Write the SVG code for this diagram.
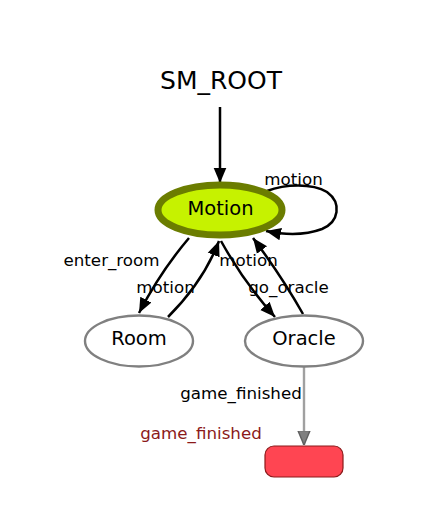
<svg xmlns="http://www.w3.org/2000/svg" width="428" height="521" viewBox="0 0 428 521">
<style>
text{font-family:"DejaVu Sans","Liberation Sans",sans-serif;fill:#000}
.title{font-size:25px}
.nl{font-size:19.5px}
.el{font-size:16.7px}
.edge{fill:none;stroke:#000;stroke-width:2.5}
.state{fill:#fff;stroke:#808080;stroke-width:2.4}
</style>
<defs>
<marker id="ah" viewBox="0 0 10 10" refX="10" refY="5" markerWidth="6" markerHeight="6" markerUnits="strokeWidth" orient="auto">
<path d="M0,0.8 L10,5 L0,9.2 z" fill="#000"/>
</marker>
<marker id="ahg" viewBox="0 0 10 10" refX="10" refY="5" markerWidth="6" markerHeight="6" markerUnits="strokeWidth" orient="auto">
<path d="M0,0.8 L10,5 L0,9.2 z" fill="#808080" stroke="#606060" stroke-width="1"/>
</marker>
</defs>
<rect width="428" height="521" fill="#fff"/>
<g id="connectors">
<path class="edge" d="M220,107 L220,183" marker-end="url(#ah)"/>
<path class="edge" d="M267,191 C285,184 312,183 327,192 C342,203 339,222 322,229 C306,235 285,235 266,231" marker-end="url(#ah)"/>
<path class="edge" d="M189,238 C172,258 155,282 139,313" marker-end="url(#ah)"/>
<path class="edge" d="M168,317 C186,299 206,275 219,241" marker-end="url(#ah)"/>
<path class="edge" d="M221,241 C236,268 256,296 275,317" marker-end="url(#ah)"/>
<path class="edge" d="M303,314 C290,291 271,262 253,238" marker-end="url(#ah)"/>
<path d="M304,367 L304,445" fill="none" stroke="#a0a0a0" stroke-width="2.4" marker-end="url(#ahg)"/>
<text class="el" x="111.5" y="266" text-anchor="middle">enter_room</text>
<text class="el" x="165.5" y="293" text-anchor="middle">motion</text>
<text class="el" x="248.5" y="266" text-anchor="middle">motion</text>
<text class="el" x="288.5" y="293" text-anchor="middle">go_oracle</text>
<text class="el" x="293.5" y="185" text-anchor="middle">motion</text>
<text class="el" x="241" y="399" text-anchor="middle">game_finished</text>
</g>
<g id="SM_ROOT">
<text class="title" x="221" y="89" text-anchor="middle">SM_ROOT</text>
</g>
<g id="Motion">
<ellipse cx="220" cy="210" rx="62" ry="25" fill="#c6f200" stroke="#6b7d00" stroke-width="7"/>
<text class="nl" x="220.5" y="214.5" text-anchor="middle">Motion</text>
</g>
<g id="Room">
<ellipse class="state" cx="139" cy="341" rx="54" ry="25.5"/>
<text class="nl" x="139" y="345" text-anchor="middle">Room</text>
</g>
<g id="Oracle">
<ellipse class="state" cx="304" cy="341" rx="59" ry="25.5"/>
<text class="nl" x="304" y="345" text-anchor="middle">Oracle</text>
</g>
<g id="game_finished">
<rect x="265" y="446" width="78" height="31" rx="9" fill="#ff4552" stroke="#8b1a1a" stroke-width="1.2"/>
<text class="el" x="201" y="439" text-anchor="middle" style="fill:#8b1a1a">game_finished</text>
</g>
</svg>
